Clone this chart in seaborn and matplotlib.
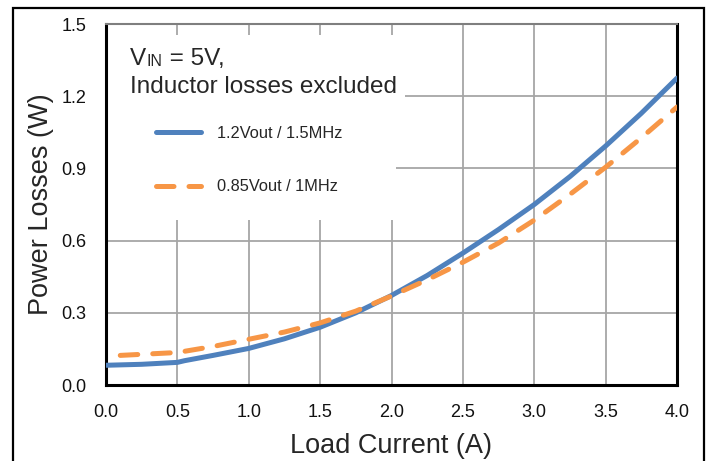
import matplotlib
matplotlib.use("Agg")
import matplotlib.pyplot as plt
from matplotlib.patches import Rectangle
import pandas as pd
import seaborn as sns

# values
current_a = [0.0, 0.25, 0.5, 0.55, 0.75, 1.0, 1.25, 1.5, 1.75, 2.0, 2.25, 2.5, 2.75, 3.0, 3.25, 3.5, 3.75, 4.0]
loss_12v = [0.082, 0.086, 0.094, 0.101, 0.123, 0.152, 0.192, 0.240, 0.300, 0.372, 0.455, 0.548, 0.646, 0.750, 0.866, 0.993, 1.129, 1.275]

current_b = [0.1, 0.5, 0.75, 1.0, 1.25, 1.5, 1.75, 2.0, 2.25, 2.5, 2.75, 3.0, 3.25, 3.5, 3.75, 4.0]
loss_085v = [0.123, 0.135, 0.16, 0.19, 0.22, 0.258, 0.307, 0.37, 0.437, 0.51, 0.59, 0.685, 0.792, 0.905, 1.027, 1.155]

labels = ["1.2Vout / 1.5MHz", "0.85Vout / 1MHz"]
colors = ["#4f81bd", "#f79646"]
x_ticks = [0.0, 0.5, 1.0, 1.5, 2.0, 2.5, 3.0, 3.5, 4.0]
y_ticks = [0.0, 0.3, 0.6, 0.9, 1.2, 1.5]

sns.set_style("white")
plt.rcParams["font.family"] = ["Liberation Sans", "DejaVu Sans"]

fig = plt.figure(figsize=(7.11, 4.61), dpi=100)
ax = fig.add_axes([106 / 711, 76 / 461, 571 / 711, 361 / 461])

df_a = pd.DataFrame({"current": current_a, "loss": loss_12v})
df_b = pd.DataFrame({"current": current_b, "loss": loss_085v})

sns.lineplot(data=df_a, x="current", y="loss", color=colors[0], linewidth=3.6,
             label=labels[0], ax=ax, zorder=3)
sns.lineplot(data=df_b, x="current", y="loss", color=colors[1], linewidth=3.6,
             label=labels[1], ax=ax, zorder=3)
ax.lines[0].set_solid_capstyle("round")
ax.lines[0].set_solid_joinstyle("round")
ax.lines[1].set_dashes((3.5, 3.0))
ax.lines[1].set_dash_capstyle("round")

ax.set_xlim(0, 4)
ax.set_ylim(0, 1.5)
ax.set_xticks(x_ticks)
ax.set_yticks(y_ticks)
ax.set_xticklabels([f"{v:.1f}" for v in x_ticks])
ax.set_yticklabels([f"{v:.1f}" for v in y_ticks])
ax.tick_params(length=0, pad=14, labelsize=13, colors="#111111")

ax.set_axisbelow(True)
ax.grid(True, color="#a6a6a6", linewidth=1.3)

ax.set_xlabel("Load Current (A)", fontsize=19.5, labelpad=8)
ax.set_ylabel("Power Losses (W)", fontsize=19.5, labelpad=5)

for side in ["left", "bottom", "right"]:
    ax.spines[side].set_color("black")
    ax.spines[side].set_linewidth(2.2)
ax.spines["top"].set_color("#7f7f7f")
ax.spines["top"].set_linewidth(1.5)

# white boxes behind the note and the legend (they hide the grid)
ax.add_patch(Rectangle((0.004, 0.789), 0.52, 0.181, transform=ax.transAxes,
                       facecolor="white", edgecolor="none", zorder=1))
ax.add_patch(Rectangle((0.004, 0.457), 0.504, 0.332, transform=ax.transAxes,
                       facecolor="white", edgecolor="none", zorder=1))

# note: V_IN = 5V, Inductor losses excluded
t_v = ax.text(0.042, 0.886, "V", transform=ax.transAxes, fontsize=17.5,
              va="baseline", ha="left", zorder=4)
t_in = ax.annotate("IN", xy=(1, 0), xycoords=t_v, xytext=(0.5, 1.0),
                   textcoords="offset points", fontsize=11.5, va="bottom",
                   ha="left", zorder=4)
ax.annotate(" = 5V,", xy=(1, 0), xycoords=t_in, xytext=(0, -1.0),
            textcoords="offset points", fontsize=17.5, va="bottom",
            ha="left", zorder=4)
ax.text(0.042, 0.809, "Inductor losses excluded", transform=ax.transAxes,
        fontsize=17.5, va="baseline", ha="left", zorder=4)

leg = ax.legend(loc="upper left", bbox_to_anchor=(0.0876, 0.718), frameon=False,
                fontsize=11.8, handlelength=2.75, handletextpad=1.0,
                labelspacing=2.35, borderpad=0, borderaxespad=0)
leg.set_zorder(5)
for ln in leg.get_lines():
    ln.set_linewidth(3.6)
    ln.set_solid_capstyle("round")
    ln.set_dash_capstyle("round")

# outer frame around the whole chart
fig.patches.append(Rectangle((13 / 711, -0.2), 691 / 711, 1.2 - 8 / 461,
                             transform=fig.transFigure, fill=False,
                             edgecolor="black", linewidth=1.6))

fig.savefig("out.png", dpi=100)
